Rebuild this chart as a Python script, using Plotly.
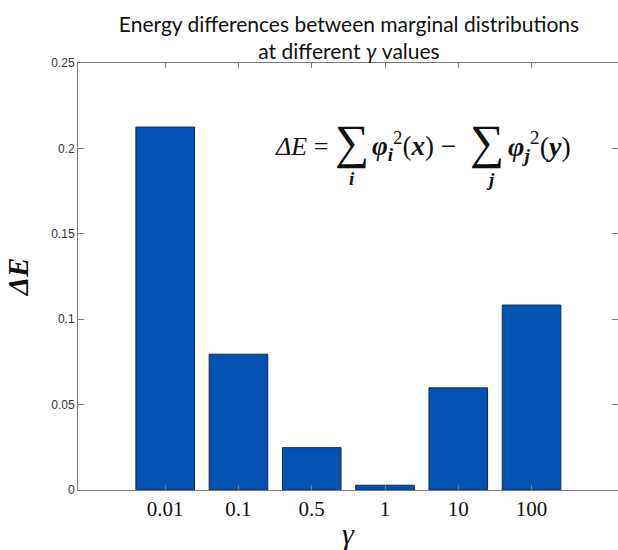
import plotly.graph_objects as go

gamma_labels = ["0.01", "0.1", "0.5", "1", "10", "100"]
delta_e = [0.2125, 0.0795, 0.0248, 0.0028, 0.0598, 0.1083]
y_ticks = [0, 0.05, 0.1, 0.15, 0.2, 0.25]
y_tick_text = ["0", "0.05", "0.1", "0.15", "0.2", "0.25"]

W, H = 618, 550
L, R, T, B = 78, 0, 63, 60
PW, PH = W - L - R, H - T - B

def px(x):
    return (x - L) / PW

def py(y):
    return (H - B - y) / PH

xpos = list(range(len(gamma_labels)))

fig = go.Figure()
fig.add_trace(go.Bar(
    x=xpos, y=delta_e, width=0.8,
    marker=dict(color="#0253B4", line=dict(color="#1a2a44", width=1)),
    showlegend=False,
))

serif = "Liberation Serif, Times New Roman, serif"
fig.update_layout(
    width=W, height=H,
    margin=dict(l=L, r=R, t=T, b=B),
    paper_bgcolor="white", plot_bgcolor="white",
    title=dict(
        text="Energy differences between marginal distributions<br>at different <i>γ</i> values",
        xref="container", x=349 / W, xanchor="center", y=1 - 32 / H, yanchor="middle",
        font=dict(family="Lato, Open Sans, sans-serif", size=21, color="#111"),
    ),
    xaxis=dict(
        range=[-1.19, 6.18], tickvals=xpos, ticktext=gamma_labels,
        showline=True, linecolor="#7a7a7a", linewidth=1, mirror="ticks",
        ticks="inside", ticklen=5, tickcolor="#7a7a7a",
        showgrid=False, zeroline=False,
        tickfont=dict(family=serif, size=21, color="#111"),
        title=dict(text="<i>γ</i>", font=dict(family=serif, size=30, color="#111"), standoff=2),
    ),
    yaxis=dict(
        range=[0, 0.25], tickvals=y_ticks, ticktext=y_tick_text,
        showline=True, linecolor="#7a7a7a", linewidth=1, mirror="ticks",
        ticks="inside", ticklen=6, tickcolor="#7a7a7a",
        showgrid=False, zeroline=False,
        tickfont=dict(family="Liberation Sans, Arial, sans-serif", size=12, color="#333"),
        title=dict(text="<b><i>ΔE</i></b>", font=dict(family=serif, size=29, color="#111"), standoff=14),
    ),
)

annotations = [
    dict(text="<i>ΔE</i> =", x=px(273), y=py(146), xanchor="left", yanchor="middle",
         font=dict(family=serif, size=26, color="#111")),
    dict(text="∑", x=px(352), y=py(142), xanchor="center", yanchor="middle",
         font=dict(family=serif, size=48, color="#111")),
    dict(text="<b><i>i</i></b>", x=px(352), y=py(178), xanchor="center", yanchor="middle",
         font=dict(family=serif, size=19, color="#111")),
    dict(text="<b><i>φ<sub>i</sub></i></b><sup>2</sup>(<b><i>x</i></b>) −", x=px(370), y=py(146),
         xanchor="left", yanchor="middle", font=dict(family=serif, size=27, color="#111")),
    dict(text="∑", x=px(487), y=py(142), xanchor="center", yanchor="middle",
         font=dict(family=serif, size=48, color="#111")),
    dict(text="<b><i>j</i></b>", x=px(490), y=py(179), xanchor="center", yanchor="middle",
         font=dict(family=serif, size=19, color="#111")),
    dict(text="<b><i>φ<sub>j</sub></i></b><sup>2</sup>(<b><i>y</i></b>)", x=px(506), y=py(146),
         xanchor="left", yanchor="middle", font=dict(family=serif, size=28, color="#111")),
]
for a in annotations:
    a.update(xref="paper", yref="paper", showarrow=False)
fig.update_layout(annotations=annotations)

fig.write_html("out.html", config={"displayModeBar": False},
               post_script="document.body.style.margin='0';")
